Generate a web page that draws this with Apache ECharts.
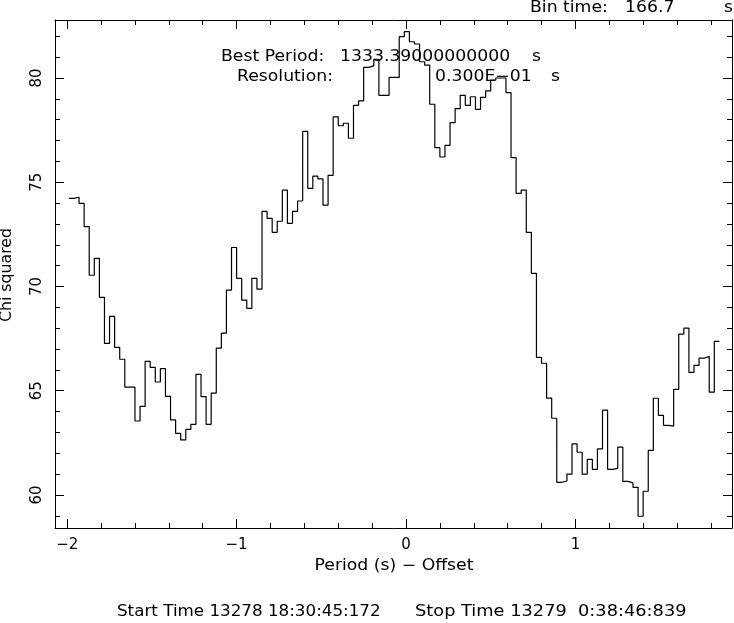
<!DOCTYPE html>
<html>
<head>
<meta charset="utf-8">
<script src="https://cdn.jsdelivr.net/npm/echarts@6/dist/echarts.min.js"></script>
<style>
html,body{margin:0;padding:0;background:#fff;}
#c{width:734px;height:623px;}
</style>
</head>
<body>
<div id="c"></div>
<script>
// ---- data ----
const periodStart = -1.99;     // left edge of first bin (s, offset)
const resolution = 0.03;       // bin width (s)
const chiSquared = [
  74.23, 74.28, 73.99, 72.87, 70.54, 71.35, 69.48, 67.27, 68.57, 67.08,
  66.51, 65.17, 65.17, 63.55, 64.25, 66.41, 66.12, 65.42, 66.06, 64.73,
  63.6, 62.96, 62.64, 63.15, 63.39, 65.79, 64.72, 63.39, 64.89, 67.04,
  67.76, 69.83, 71.87, 70.39, 69.35, 68.95, 70.39, 69.87, 73.6, 73.27,
  72.6, 73.13, 74.62, 73.03, 73.6, 74.1, 77.44, 74.71, 75.29, 75.16,
  73.9, 75.33, 78.14, 77.71, 77.83, 77.11, 78.69, 78.9, 80.51, 80.58,
  80.9, 79.17, 79.17, 80.03, 80.03, 81.98, 82.22, 81.74, 81.63, 80.78,
  80.62, 78.74, 76.66, 76.21, 76.77, 77.86, 78.53, 79.17, 78.69, 79.1,
  78.5, 79.07, 79.38, 79.9, 80.0, 80.0, 79.3, 76.18, 74.47, 74.62,
  72.6, 70.63, 66.6, 66.32, 64.65, 63.68, 60.61, 60.67, 61.0, 62.45,
  62.05, 61.0, 61.71, 61.23, 62.21, 64.07, 61.23, 61.28, 62.3, 60.65,
  60.58, 60.37, 58.98, 60.18, 62.14, 64.64, 63.82, 63.34, 63.3, 65.07,
  67.72, 68.0, 65.88, 66.22, 66.56, 66.65, 64.93, 67.37
];
const xMajorTicks = [-2, -1, 0, 1];
const xMinorTicks = [-2.0, -1.8, -1.6, -1.4, -1.2, -1.0, -0.8, -0.6, -0.4, -0.2, 0.0, 0.2, 0.4, 0.6, 0.8, 1.0, 1.2, 1.4, 1.6, 1.8];
const yMajorTicks = [60, 65, 70, 75, 80];
const yMinorTicks = [59, 60, 61, 62, 63, 64, 65, 66, 67, 68, 69, 70, 71, 72, 73, 74, 75, 76, 77, 78, 79, 80, 81, 82];

// ---- build step points (bin edges) ----
const pts = chiSquared.map((v, i) => [periodStart + i * resolution, v]);
pts.push([periodStart + chiSquared.length * resolution, chiSquared[chiSquared.length - 1]]);

const FONT = 'DejaVu Sans';
const black = '#000';
const XMIN = -2.072, XMAX = 1.9244, YMIN = 58.417, YMAX = 82.782;
const ls = {color: black, width: 1};
const fmt = v => String(v).replace('-', '\u2212');

function xAx(pos, ticks, len, line, labels) {
  return {
    type: 'value', position: pos, min: XMIN, max: XMAX,
    axisLine: {show: line, onZero: false, lineStyle: ls},
    axisTick: {show: true, inside: true, length: len, customValues: ticks, lineStyle: ls},
    axisLabel: labels ? {show: true, customValues: ticks, formatter: fmt, margin: 10,
      fontSize: 15, fontFamily: FONT, color: black} : {show: false},
    splitLine: {show: false}
  };
}
function yAx(pos, ticks, len, line, labels) {
  return {
    type: 'value', position: pos, min: YMIN, max: YMAX,
    axisLine: {show: line, onZero: false, lineStyle: ls},
    axisTick: {show: true, inside: true, length: len, customValues: ticks, lineStyle: ls},
    axisLabel: labels ? {show: true, customValues: ticks, rotate: 90, margin: 10,
      fontSize: 15, fontFamily: FONT, color: black} : {show: false},
    splitLine: {show: false}
  };
}
function txt(x, y, s, sx) {
  return {
    type: 'text', x: x, y: y, scaleX: sx || 1.15, silent: true, z: 10,
    style: {text: s, fontSize: 15, fontFamily: FONT, fill: black,
      textAlign: 'left', verticalAlign: 'middle'}
  };
}

const chart = echarts.init(document.getElementById('c'));
chart.setOption({
  animation: false,
  backgroundColor: '#fff',
  grid: {left: 55, top: 20, width: 677, height: 508, containLabel: false},
  xAxis: [
    xAx('bottom', xMajorTicks, 9, true, true),
    xAx('bottom', xMinorTicks, 5, false, false),
    xAx('top', xMajorTicks, 9, true, false),
    xAx('top', xMinorTicks, 5, false, false)
  ],
  yAxis: [
    yAx('left', yMajorTicks, 9, true, true),
    yAx('left', yMinorTicks, 5, false, false),
    yAx('right', yMajorTicks, 9, true, false),
    yAx('right', yMinorTicks, 5, false, false)
  ],
  series: [{
    type: 'line', step: 'end', data: pts, xAxisIndex: 0, yAxisIndex: 0,
    showSymbol: false, symbol: 'none', lineStyle: {color: black, width: 1.2},
    clip: true, z: 2
  }],
  graphic: [
    txt(530, 8.5, 'Bin time:'),
    txt(625, 8.5, '166.7'),
    txt(724, 8.5, 's'),
    txt(221, 57, 'Best Period:'),
    txt(340, 57, '1333.39000000000'),
    txt(532, 57, 's'),
    txt(237, 77, 'Resolution:'),
    txt(435, 77, '0.300E\u221201'),
    txt(551, 77, 's'),
    {type: 'text', x: 394, y: 566, scaleX: 1.15, silent: true, z: 10,
      style: {text: 'Period (s) \u2212 Offset', fontSize: 15, fontFamily: FONT, fill: black, textAlign: 'center', verticalAlign: 'middle'}},
    txt(117, 612, 'Start Time 13278 18:30:45:172', 1.115),
    txt(415, 612, 'Stop Time 13279  0:38:46:839', 1.185),
    {type: 'text', x: 7, y: 275, rotation: Math.PI / 2, scaleX: 1.05, silent: true,
      style: {text: 'Chi squared', fontSize: 15, fontFamily: FONT, fill: black, textAlign: 'center', verticalAlign: 'middle'}}
  ]
});
</script>
</body>
</html>
